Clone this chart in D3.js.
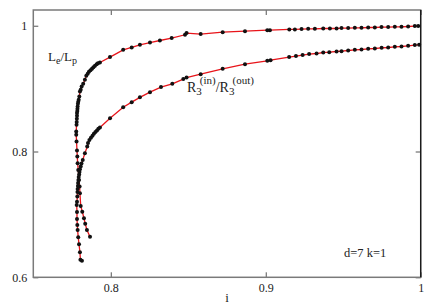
<!DOCTYPE html>
<html>
<head>
<meta charset="utf-8">
<script src="https://cdn.jsdelivr.net/npm/d3@7"></script>
<style>
  body { margin: 0; background: #fff; }
  text { font-family: "Liberation Serif", "DejaVu Serif", serif; fill: #222; }
</style>
</head>
<body>
<svg id="chart" width="436" height="305"></svg>
<script>
// L_e/L_p curve, from the right end going left and down
const leX = [0.9984, 0.9962, 0.9919, 0.9876, 0.9833, 0.9790, 0.9747, 0.9704, 0.9661, 0.9618,
  0.9575, 0.9532, 0.9489, 0.9457, 0.9414, 0.9371, 0.9317, 0.9274, 0.9231, 0.9188,
  0.9152, 0.9027, 0.9010, 0.8866, 0.8722, 0.8580, 0.8489, 0.8479,
  0.8393, 0.8317, 0.8253, 0.8188, 0.8135, 0.8080, 0.7995, 0.7930,
  0.7917, 0.7909, 0.7898, 0.7888, 0.7879, 0.7869, 0.7859, 0.7851, 0.7842, 0.7833,
  0.7822, 0.7812, 0.7806, 0.7801, 0.7797, 0.7793, 0.7790, 0.7788, 0.7786, 0.7785,
  0.7784, 0.7782, 0.7782, 0.7781, 0.7780, 0.7779, 0.7777, 0.7777, 0.7779, 0.7782,
  0.7784, 0.7786, 0.7790, 0.7795, 0.7799, 0.7801, 0.7806, 0.7816, 0.7827, 0.7835,
  0.7846, 0.7866];
const leY = [0.9994, 0.9994, 0.9988, 0.9983, 0.9983, 0.9978, 0.9978, 0.9972, 0.9972, 0.9967,
  0.9967, 0.9962, 0.9962, 0.9956, 0.9956, 0.9956, 0.9951, 0.9951, 0.9946, 0.9941,
  0.9941, 0.9930, 0.9930, 0.9914, 0.9898, 0.9867, 0.9883, 0.9856,
  0.9803, 0.9765, 0.9733, 0.9697, 0.9654, 0.9617, 0.9501, 0.9415,
  0.9402, 0.9386, 0.9362, 0.9339, 0.9315, 0.9291, 0.9267, 0.9235, 0.9203, 0.9140,
  0.9076, 0.9033, 0.8981, 0.8954, 0.8874, 0.8822, 0.8790, 0.8758, 0.8715, 0.8678,
  0.8646, 0.8614, 0.8567, 0.8519, 0.8471, 0.8424, 0.8317, 0.8265, 0.8158, 0.8015,
  0.7919, 0.7814, 0.7708, 0.7549, 0.7442, 0.7337, 0.7135, 0.7044, 0.6939, 0.6853,
  0.6753, 0.6646];

// R3(in)/R3(out) curve, from the right end going left and down
const rX = [0.9990, 0.9962, 0.9919, 0.9876, 0.9833, 0.9790, 0.9748, 0.9704, 0.9661, 0.9618,
  0.9575, 0.9532, 0.9489, 0.9457, 0.9410, 0.9371, 0.9328, 0.9280, 0.9238, 0.9195,
  0.9151, 0.9031, 0.9010, 0.8866, 0.8722, 0.8580, 0.8489, 0.8468,
  0.8397, 0.8324, 0.8253, 0.8188, 0.8135, 0.8080, 0.7995, 0.7930,
  0.7920, 0.7911, 0.7901, 0.7891, 0.7882, 0.7872, 0.7862, 0.7853, 0.7848, 0.7833,
  0.7819, 0.7811, 0.7806, 0.7801, 0.7798, 0.7796, 0.7793, 0.7791, 0.7789, 0.7788,
  0.7786, 0.7785, 0.7784, 0.7782, 0.7780, 0.7782, 0.7782, 0.7784, 0.7786, 0.7790,
  0.7795, 0.7801, 0.7804, 0.7814];
const rY = [0.9697, 0.9692, 0.9681, 0.9670, 0.9665, 0.9654, 0.9649, 0.9638, 0.9633, 0.9622,
  0.9617, 0.9606, 0.9596, 0.9590, 0.9580, 0.9574, 0.9558, 0.9549, 0.9533, 0.9517,
  0.9501, 0.9453, 0.9442, 0.9389, 0.9315, 0.9230, 0.9176, 0.9151,
  0.9076, 0.9024, 0.8944, 0.8861, 0.8785, 0.8705, 0.8530, 0.8381,
  0.8360, 0.8336, 0.8312, 0.8281, 0.8249, 0.8217, 0.8185, 0.8137, 0.8078, 0.7973,
  0.7867, 0.7811, 0.7760, 0.7716, 0.7676, 0.7636, 0.7596, 0.7549, 0.7501, 0.7453,
  0.7405, 0.7358, 0.7283, 0.7203, 0.7151, 0.7039, 0.6928, 0.6833, 0.6753, 0.6637,
  0.6526, 0.6398, 0.6281, 0.6265];

const xTicks = [0.8, 0.9, 1];
const yTicks = [0.6, 0.8, 1];

const svg = d3.select("#chart");
const margin = { top: 10, right: 15.3, bottom: 27.7, left: 33.3 };
const W = 436, H = 305;

const x = d3.scaleLinear().domain([0.75, 1]).range([margin.left, W - margin.right]);
const y = d3.scaleLinear().domain([0.6, 1.025]).range([H - margin.bottom, margin.top]);

const fmt = d => String(d);

// axes with inward ticks, mirrored on top and right
svg.append("g")
    .attr("transform", `translate(0,${H - margin.bottom})`)
    .call(d3.axisBottom(x).tickValues(xTicks).tickSize(-5).tickPadding(6).tickFormat(fmt))
    .call(g => g.select(".domain").remove());
svg.append("g")
    .attr("transform", `translate(0,${margin.top})`)
    .call(d3.axisTop(x).tickValues(xTicks).tickSize(-5).tickFormat(""))
    .call(g => g.select(".domain").remove());
svg.append("g")
    .attr("transform", `translate(${margin.left},0)`)
    .call(d3.axisLeft(y).tickValues(yTicks).tickSize(-5).tickPadding(6).tickFormat(fmt))
    .call(g => g.select(".domain").remove());
svg.append("g")
    .attr("transform", `translate(${W - margin.right},0)`)
    .call(d3.axisRight(y).tickValues(yTicks).tickSize(-5).tickFormat(""))
    .call(g => g.select(".domain").remove());

svg.selectAll(".tick line").attr("stroke", "#555");
svg.selectAll(".tick text")
    .attr("font-size", 12)
    .attr("font-family", "Liberation Serif, serif")
    .attr("fill", "#222");

// frame
svg.append("rect")
    .attr("x", margin.left)
    .attr("y", margin.top)
    .attr("width", W - margin.left - margin.right)
    .attr("height", H - margin.top - margin.bottom)
    .attr("fill", "none")
    .attr("stroke", "#7a7a7a")
    .attr("stroke-width", 1.5);
svg.append("line")
    .attr("x1", W - margin.right).attr("x2", W - margin.right)
    .attr("y1", margin.top).attr("y2", H - margin.bottom)
    .attr("stroke", "#111")
    .attr("stroke-width", 1.2);

// curves
const series = [
    leX.map((v, i) => [v, leY[i]]),
    rX.map((v, i) => [v, rY[i]])
];
const line = d3.line().x(d => x(d[0])).y(d => y(d[1]));

series.forEach(pts => {
    svg.append("path")
        .datum(pts)
        .attr("d", line)
        .attr("fill", "none")
        .attr("stroke", "#e8141a")
        .attr("stroke-width", 1.3);
    svg.append("g").selectAll("circle")
        .data(pts)
        .enter().append("circle")
        .attr("cx", d => x(d[0]))
        .attr("cy", d => y(d[1]))
        .attr("r", 2)
        .attr("fill", "#111");
});

// labels
const le = svg.append("text").attr("x", 48).attr("y", 61).attr("font-size", 13);
le.append("tspan").text("L");
le.append("tspan").attr("dy", 3).attr("font-size", 10).text("e");
le.append("tspan").attr("dy", -3).text("/L");
le.append("tspan").attr("dy", 3).attr("font-size", 10).text("p");

const r3 = svg.append("text").attr("x", 187).attr("y", 92).attr("font-size", 14);
r3.append("tspan").text("R");
r3.append("tspan").attr("dy", 3).attr("font-size", 11).text("3");
r3.append("tspan").attr("dy", -11).attr("font-size", 11).attr("dx", -2).text("(in)");
r3.append("tspan").attr("dy", 8).text("/R");
r3.append("tspan").attr("dy", 3).attr("font-size", 11).text("3");
r3.append("tspan").attr("dy", -11).attr("font-size", 11).attr("dx", -2).text("(out)");

svg.append("text")
    .attr("x", 344).attr("y", 257)
    .attr("font-size", 12.5)
    .text("d=7 k=1");

svg.append("text")
    .attr("x", (margin.left + W - margin.right) / 2)
    .attr("y", 302)
    .attr("text-anchor", "middle")
    .attr("font-size", 13)
    .text("i");
</script>
</body>
</html>
